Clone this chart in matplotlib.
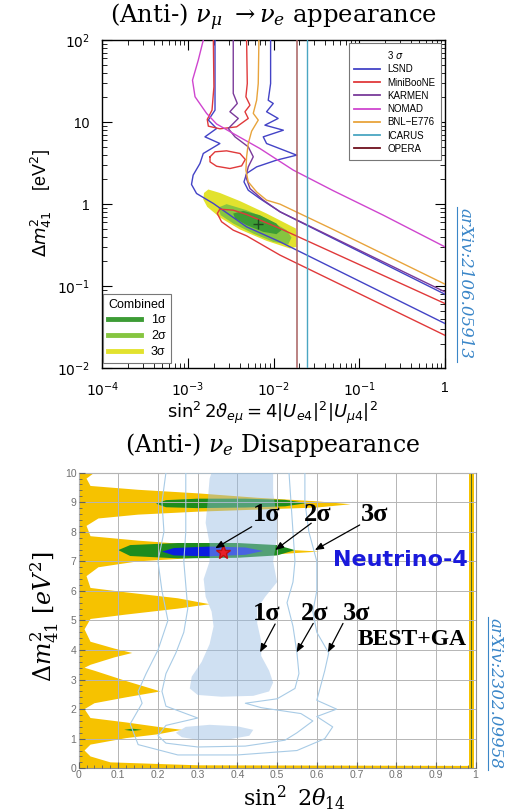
import matplotlib
matplotlib.use("Agg")
import matplotlib.pyplot as plt
from matplotlib.lines import Line2D
from matplotlib.patches import Rectangle
from matplotlib.ticker import LogLocator, NullFormatter, MultipleLocator

plt.rcParams['font.family'] = ['Liberation Sans', 'DejaVu Sans']
plt.rcParams['mathtext.fontset'] = 'dejavusans'

# ---------------- top panel: sin^2 2theta_emu vs dm41^2 (3 sigma curves) ----------------
exp_names = ['LSND', 'MiniBooNE', 'KARMEN', 'NOMAD', 'BNL\u2212E776', 'ICARUS', 'OPERA']
exp_colors = ['#4343c6', '#e0393a', '#7a3a9a', '#cf45cf', '#e8a43c', '#4aa6c2', '#6e0f1c']

lsnd_right = [(9.23e-3, 100), (9.23e-3, 29.6), (8.66e-3, 18.5), (9.91e-3, 16.9), (8.28e-3, 13.4),
              (1.13e-2, 11.1), (7.92e-3, 9.19), (1.30e-2, 7.98), (7.57e-3, 6.62), (8.28e-3, 5.49),
              (1.86e-2, 3.96), (1.08e-2, 3.44), (6.34e-3, 2.85), (4.84e-3, 2.37), (4.51e-3, 1.87),
              (5.06e-3, 1.48), (6.92e-3, 1.17), (1.19e-2, 0.807), (3.18e-2, 0.482), (1.0, 0.0798)]
lsnd_left = [(2.07e-3, 100), (2.07e-3, 14.0), (1.73e-3, 10.6), (2.16e-3, 8.37), (1.58e-3, 6.62),
             (2.36e-3, 5.49), (1.51e-3, 4.15), (1.38e-3, 3.13), (1.15e-3, 2.26), (1.10e-3, 1.74),
             (1.26e-3, 1.35), (1.98e-3, 1.02), (4.84e-3, 0.529), (1.19e-2, 0.347), (1.0, 0.0351)]
miniboone_top = [(1.98e-3, 100), (2.01e-3, 27.0), (1.91e-3, 14.0), (1.68e-3, 10.8), (1.73e-3, 8.94),
                 (2.36e-3, 8.30), (3.70e-3, 8.77), (5.06e-3, 11.1), (4.63e-3, 13.4), (5.30e-3, 16.1),
                 (4.75e-3, 20.4), (4.93e-3, 29.6), (4.84e-3, 100)]
miniboone_loop = [(1.81e-3, 3.78), (2.07e-3, 4.35), (2.83e-3, 4.47), (4.05e-3, 4.15), (4.67e-3, 3.51),
                  (4.23e-3, 2.93), (3.09e-3, 2.72), (2.16e-3, 2.90), (1.81e-3, 3.28), (1.81e-3, 3.78)]
miniboone_band = [(1.0, 0.0615), (1.19e-2, 0.505), (4.84e-3, 0.748), (3.38e-3, 0.845), (2.36e-3, 0.869),
                  (2.20e-3, 0.769), (2.47e-3, 0.610), (3.38e-3, 0.482), (4.84e-3, 0.411),
                  (1.19e-2, 0.239), (1.0, 0.0252)]
karmen = [(3.38e-3, 100), (3.38e-3, 22.4), (3.77e-3, 16.9), (3.09e-3, 13.4), (3.87e-3, 11.1),
          (2.96e-3, 8.37), (3.54e-3, 6.62), (5.06e-3, 5.00), (5.79e-3, 3.78), (5.06e-3, 2.85),
          (4.75e-3, 2.15), (5.30e-3, 1.55), (7.57e-3, 1.12), (1.19e-2, 0.807), (1.0, 0.0853)]
nomad = [(1.51e-3, 100), (1.32e-3, 57), (1.13e-3, 32.5), (1.21e-3, 20.4), (1.65e-3, 12.8),
         (2.16e-3, 9.5), (3.38e-3, 7.27), (6.92e-3, 4.77), (1.70e-2, 2.60), (4.97e-2, 1.46),
         (0.191, 0.734), (1.0, 0.302)]
bnl = [(6.74e-3, 100), (6.62e-3, 29.6), (6.34e-3, 18.5), (5.79e-3, 12.8), (6.62e-3, 10.6),
       (5.54e-3, 7.76), (5.06e-3, 5.49), (4.84e-3, 3.78), (4.75e-3, 2.60), (5.06e-3, 1.87),
       (6.34e-3, 1.41), (8.28e-3, 1.12), (1.19e-2, 1.0), (4.97e-2, 0.491), (1.0, 0.106)]
icarus_x = 0.0245
opera_x = 0.019

comb_names = ['1\u03c3', '2\u03c3', '3\u03c3']
comb_colors = ['#3d9c35', '#86c540', '#e2e22e']
comb_3s = [(1.54e-3, 1.37), (1.73e-3, 1.51), (2.36e-3, 1.37), (4.05e-3, 1.09), (8.28e-3, 0.769),
           (1.82e-2, 0.505), (1.86e-2, 0.302), (1.55e-2, 0.288), (8.28e-3, 0.357), (4.05e-3, 0.491),
           (2.36e-3, 0.688), (1.68e-3, 0.927), (1.51e-3, 1.14)]
comb_2s = [(2.26e-3, 0.910), (2.83e-3, 1.0), (4.84e-3, 0.845), (8.28e-3, 0.669), (1.42e-2, 0.482),
           (1.62e-2, 0.392), (1.48e-2, 0.322), (9.91e-3, 0.347), (5.79e-3, 0.438), (3.38e-3, 0.581),
           (2.41e-3, 0.734)]
comb_1s = [(3.38e-3, 0.769), (4.43e-3, 0.829), (6.92e-3, 0.734), (1.08e-2, 0.581), (1.24e-2, 0.482),
           (1.08e-2, 0.431), (7.57e-3, 0.460), (4.84e-3, 0.554), (3.54e-3, 0.669)]
comb_best = (6.62e-3, 0.581)

top_xticks = [1e-4, 1e-3, 1e-2, 1e-1, 1]
top_xlabels = [r'$10^{-4}$', r'$10^{-3}$', r'$10^{-2}$', r'$10^{-1}$', '1']
top_yticks = [1e-2, 1e-1, 1, 10, 100]
top_ylabels = [r'$10^{-2}$', r'$10^{-1}$', '1', '10', r'$10^{2}$']

# ---------------- bottom panel: sin^2 2theta_14 vs dm41^2 ----------------
n4_3s = [(0.0, 10.0), (0.04, 10.0), (0.02, 9.8), (0.03, 9.55), (0.15, 9.42), (0.30, 9.30), (0.45, 9.15),
         (0.60, 9.03), (0.685, 8.93), (0.60, 8.82), (0.45, 8.75), (0.30, 8.68), (0.15, 8.58),
         (0.05, 8.45), (0.02, 8.2), (0.03, 7.85), (0.15, 7.70), (0.30, 7.55), (0.45, 7.45),
         (0.607, 7.33), (0.45, 7.20), (0.30, 7.12), (0.15, 7.00), (0.05, 6.80), (0.02, 6.5),
         (0.03, 6.10), (0.12, 5.95), (0.25, 5.75), (0.33, 5.55), (0.25, 5.40), (0.12, 5.20),
         (0.03, 5.05), (0.015, 4.7), (0.03, 4.28), (0.09, 4.05), (0.135, 3.90), (0.09, 3.75),
         (0.03, 3.50), (0.015, 3.40), (0.04, 3.30), (0.12, 2.95), (0.206, 2.60), (0.12, 2.40),
         (0.04, 2.20), (0.015, 2.0), (0.03, 1.70), (0.12, 1.55), (0.20, 1.40), (0.26, 1.30),
         (0.20, 1.15), (0.12, 1.02), (0.03, 0.80), (0.015, 0.6), (0.03, 0.40), (0.08, 0.20),
         (0.30, 0.10), (0.985, 0.08), (0.985, 0.0), (0.0, 0.0)]
n4_2s_a = [(0.195, 8.95), (0.22, 9.07), (0.30, 9.12), (0.42, 9.12), (0.52, 9.08), (0.575, 8.97),
           (0.52, 8.86), (0.42, 8.82), (0.30, 8.80), (0.22, 8.83)]
n4_2s_b = [(0.10, 7.38), (0.13, 7.55), (0.25, 7.62), (0.40, 7.62), (0.50, 7.55), (0.545, 7.38),
           (0.50, 7.20), (0.40, 7.12), (0.25, 7.10), (0.13, 7.18)]
n4_2s_c = [(0.115, 1.30), (0.135, 1.34), (0.16, 1.30), (0.135, 1.26)]
n4_1s = [(0.21, 7.33), (0.24, 7.45), (0.33, 7.50), (0.42, 7.47), (0.465, 7.35), (0.42, 7.22),
         (0.33, 7.17), (0.24, 7.20)]
n4_edge = (0.983, 0.996)
n4_edge_dark = (0.988, 0.992)
n4_best = (0.363, 7.31)

best_1s_a = [(0.335, 10.0), (0.49, 10.0), (0.49, 9.3), (0.50, 8.5), (0.50, 7.8), (0.49, 7.0),
             (0.50, 6.3), (0.47, 5.8), (0.45, 5.4), (0.45, 4.9), (0.46, 4.3), (0.46, 3.8),
             (0.48, 3.3), (0.49, 2.9), (0.48, 2.6), (0.44, 2.45), (0.36, 2.42), (0.30, 2.48),
             (0.28, 2.7), (0.285, 3.1), (0.31, 3.6), (0.33, 4.2), (0.34, 4.8), (0.335, 5.3),
             (0.32, 5.8), (0.315, 6.4), (0.33, 7.0), (0.33, 7.6), (0.32, 8.3), (0.325, 9.0), (0.33, 9.8)]
best_1s_b = [(0.245, 1.2), (0.27, 1.4), (0.33, 1.47), (0.40, 1.42), (0.44, 1.3), (0.43, 1.1),
             (0.38, 0.98), (0.30, 0.96), (0.26, 1.05)]
best_2s = [(0.27, 10.0), (0.53, 10.0), (0.535, 9.0), (0.54, 8.0), (0.545, 7.0), (0.54, 6.3),
           (0.525, 5.6), (0.54, 4.8), (0.55, 3.9), (0.555, 3.2), (0.545, 2.7), (0.50, 2.35),
           (0.42, 2.2), (0.46, 2.05), (0.56, 1.85), (0.59, 1.6), (0.55, 1.2), (0.52, 0.95),
           (0.42, 0.75), (0.30, 0.72), (0.22, 0.85), (0.20, 1.1), (0.22, 1.45), (0.30, 1.7),
           (0.22, 2.1), (0.21, 2.6), (0.22, 3.2), (0.245, 3.9), (0.265, 4.6), (0.275, 5.4),
           (0.27, 6.2), (0.265, 7.0), (0.27, 8.0), (0.27, 9.0), (0.27, 10.0)]
best_3s = [(0.22, 10.0), (0.57, 10.0), (0.57, 9.0), (0.58, 8.0), (0.60, 7.0), (0.60, 6.0),
           (0.59, 5.3), (0.60, 4.6), (0.63, 3.9), (0.62, 3.3), (0.61, 2.8), (0.60, 2.3),
           (0.65, 2.0), (0.60, 1.75), (0.64, 1.4), (0.62, 1.0), (0.55, 0.6), (0.40, 0.45),
           (0.25, 0.45), (0.15, 0.8), (0.13, 1.5), (0.16, 2.2), (0.15, 2.6), (0.17, 3.2),
           (0.20, 4.0), (0.225, 5.0), (0.21, 6.0), (0.20, 7.0), (0.215, 8.0), (0.21, 9.0), (0.22, 10.0)]

sig_labels = ['1\u03c3', '2\u03c3', '3\u03c3']
n4_label_x = [0.474, 0.603, 0.745]
n4_label_y = 8.57
n4_arrows = [((0.436, 8.17), (0.344, 7.44)), ((0.586, 8.29), (0.495, 7.38)), ((0.708, 8.23), (0.595, 7.38))]
best_label_x = [0.474, 0.595, 0.70]
best_label_y = 5.24
best_arrows = [((0.495, 4.88), (0.457, 3.92)), ((0.591, 4.90), (0.549, 3.92)), ((0.666, 4.90), (0.628, 3.92))]

bot_xticks = [i / 10 for i in range(11)]
bot_xlabels = ['0', '0.1', '0.2', '0.3', '0.4', '0.5', '0.6', '0.7', '0.8', '0.9', '1']
bot_yticks = list(range(11))


def xy(pts):
    return [p[0] for p in pts], [p[1] for p in pts]


fig = plt.figure(figsize=(5.09, 8.11), dpi=100)

# ---- top panel ----
ax1 = fig.add_axes([0.201, 0.546, 0.673, 0.4045])
ax1.set_xscale('log')
ax1.set_yscale('log')

for pts, c in [(comb_3s, comb_colors[2]), (comb_2s, comb_colors[1]), (comb_1s, comb_colors[0])]:
    ax1.fill(*xy(pts), color=c, lw=0, zorder=1)
ax1.plot(*comb_best, marker='+', color='#1f4a1f', ms=7, mew=1.0, zorder=4)

curves = [(lsnd_right, 0), (lsnd_left, 0), (miniboone_top, 1), (miniboone_loop, 1), (miniboone_band, 1),
          (karmen, 2), (nomad, 3), (bnl, 4)]
for pts, k in curves:
    ax1.plot(*xy(pts), color=exp_colors[k], lw=1.0, zorder=3)
ax1.axvline(icarus_x, color=exp_colors[5], lw=1.0, zorder=3)
ax1.axvline(opera_x, color='#a86060', lw=1.1, zorder=3)

ax1.set_xlim(1e-4, 1)
ax1.set_ylim(1e-2, 1e2)
ax1.set_xticks(top_xticks, top_xlabels)
ax1.set_yticks(top_yticks, top_ylabels)
ax1.xaxis.set_minor_locator(LogLocator(base=10, subs=range(2, 10), numticks=20))
ax1.yaxis.set_minor_locator(LogLocator(base=10, subs=range(2, 10), numticks=20))
ax1.xaxis.set_minor_formatter(NullFormatter())
ax1.yaxis.set_minor_formatter(NullFormatter())
ax1.tick_params(which='both', direction='in', top=True, right=True, labelsize=10, pad=9)
ax1.tick_params(which='major', length=7, width=0.8)
ax1.tick_params(which='minor', length=3.5, width=0.6)
for s in ax1.spines.values():
    s.set_linewidth(1.0)

h1 = [Line2D([], [], color=c, lw=1.3) for c in exp_colors]
leg1 = ax1.legend(h1, exp_names, title='3 $\\sigma$', loc='upper right', bbox_to_anchor=(0.99, 0.99),
                  borderaxespad=0, fontsize=7, title_fontsize=7, fancybox=False, edgecolor='#777777',
                  framealpha=1, handlelength=2.6, labelspacing=0.33, borderpad=0.6)
leg1.get_frame().set_linewidth(0.8)
ax1.add_artist(leg1)
h2 = [Line2D([], [], color=c, lw=3.5) for c in comb_colors]
leg2 = ax1.legend(h2, comb_names, title='Combined', loc='lower left', bbox_to_anchor=(0.003, 0.016),
                  borderaxespad=0, fontsize=9, title_fontsize=9, alignment='left', fancybox=False,
                  edgecolor='#777777', framealpha=1, handlelength=2.6, labelspacing=0.3)
leg2.get_frame().set_linewidth(0.8)

fig.text(0.538, 0.979, r'(Anti-) $\nu_\mu\ \rightarrow \nu_e$ appearance', fontsize=17.5,
         family='DejaVu Serif', math_fontfamily='dejavuserif', ha='center', va='center')
fig.text(0.0806, 0.750, r'$\Delta m^2_{41}$    [eV$^2$]', rotation=90, fontsize=13, ha='center', va='center')
fig.text(0.536, 0.491, r'$\sin^2 2\vartheta_{e\mu} = 4|U_{e4}|^2|U_{\mu4}|^2$', fontsize=13,
         ha='center', va='center', zorder=0.2)

# white background of the lower picture (cuts the label above)
fig.add_artist(Rectangle((0, 0), 1, (811 - 429) / 811, transform=fig.transFigure,
                         facecolor='white', edgecolor='none', zorder=0.5))

# ---- bottom panel ----
ax2 = fig.add_axes([0.1544, 0.0527, 0.780, 0.3645], zorder=1)
ax2.fill(*xy(n4_3s), color='#f6c200', lw=0, zorder=1)
ax2.axvspan(*n4_edge, color='#f6c200', lw=0, zorder=1)
ax2.axvspan(*n4_edge_dark, color='#4d6b1f', lw=0, zorder=1.2)
for pts in [n4_2s_a, n4_2s_b, n4_2s_c]:
    ax2.fill(*xy(pts), color='#1e8c1e', lw=0, zorder=1.3)
ax2.fill(*xy(n4_1s), color='#0a1ee0', lw=0, zorder=1.4)

for pts in [best_1s_a, best_1s_b]:
    ax2.fill(*xy(pts), color='#95bbe3', alpha=0.45, lw=0, zorder=3)
for pts in [best_2s, best_3s]:
    ax2.plot(*xy(pts), color='#a8cbe6', lw=0.8, zorder=3)
ax2.plot(*n4_best, marker='*', color='#e8202a', mec='#c01010', ms=10, zorder=5)

for lab, x in zip(sig_labels, n4_label_x):
    ax2.text(x, n4_label_y, lab, fontsize=19, fontweight='bold', family='Liberation Serif',
             ha='center', va='center', zorder=6)
for lab, x in zip(sig_labels, best_label_x):
    ax2.text(x, best_label_y, lab, fontsize=19, fontweight='bold', family='Liberation Serif',
             ha='center', va='center', zorder=6)
for s, e in n4_arrows + best_arrows:
    ax2.annotate('', xy=e, xytext=s, zorder=6,
                 arrowprops=dict(arrowstyle='-|>,head_length=0.5,head_width=0.2', color='black',
                                 lw=0.9, shrinkA=0, shrinkB=0))
ax2.text(0.81, 7.05, 'Neutrino-4', fontsize=16, fontweight='bold', color='#1a1adb',
         family='DejaVu Sans', ha='center', va='center', zorder=6)
ax2.text(0.839, 4.34, 'BEST+GA', fontsize=17, fontweight='bold', family='Liberation Serif',
         ha='center', va='center', zorder=6)

ax2.set_xlim(0, 1)
ax2.set_ylim(0, 10)
ax2.set_xticks(bot_xticks, bot_xlabels)
ax2.set_yticks(bot_yticks)
ax2.xaxis.set_minor_locator(MultipleLocator(0.02))
ax2.yaxis.set_minor_locator(MultipleLocator(0.2))
ax2.set_axisbelow(False)
ax2.grid(True, color='#b5b5b5', lw=0.7)
ax2.tick_params(which='both', direction='in', labelsize=7.5, labelcolor='#707070', color='#606060', pad=1.5)
ax2.tick_params(which='major', length=4)
ax2.tick_params(which='minor', length=2.5)
for s in ax2.spines.values():
    s.set_color('#909090')

fig.text(0.536, 0.451, r'(Anti-) $\nu_e$ Disappearance', fontsize=17, family='DejaVu Serif',
         math_fontfamily='dejavuserif', ha='center', va='center')
fig.text(0.088, 0.240, r'$\Delta m^2_{41}\ [eV^2]$', rotation=90, fontsize=17,
         math_fontfamily='dejavuserif', ha='center', va='center')
fig.text(0.578, 0.016, r'$\sin^2\ 2\theta_{14}$', fontsize=16, math_fontfamily='dejavuserif',
         ha='center', va='center')

# arXiv references
arx_col = '#3a86c8'
fig.text(0.9136, 0.650, 'arXiv:2106.05913', rotation=270, fontsize=12, family='DejaVu Serif',
         style='italic', color=arx_col, ha='center', va='center')
fig.add_artist(Line2D([0.898, 0.898], [0.554, 0.745], transform=fig.transFigure, color=arx_col, lw=0.8))
fig.text(0.9725, 0.1443, 'arXiv:2302.09958', rotation=270, fontsize=12, family='DejaVu Serif',
         style='italic', color=arx_col, ha='center', va='center')
fig.add_artist(Line2D([0.958, 0.958], [0.0506, 0.239], transform=fig.transFigure, color=arx_col, lw=0.8))

fig.savefig('out.png', dpi=100)
